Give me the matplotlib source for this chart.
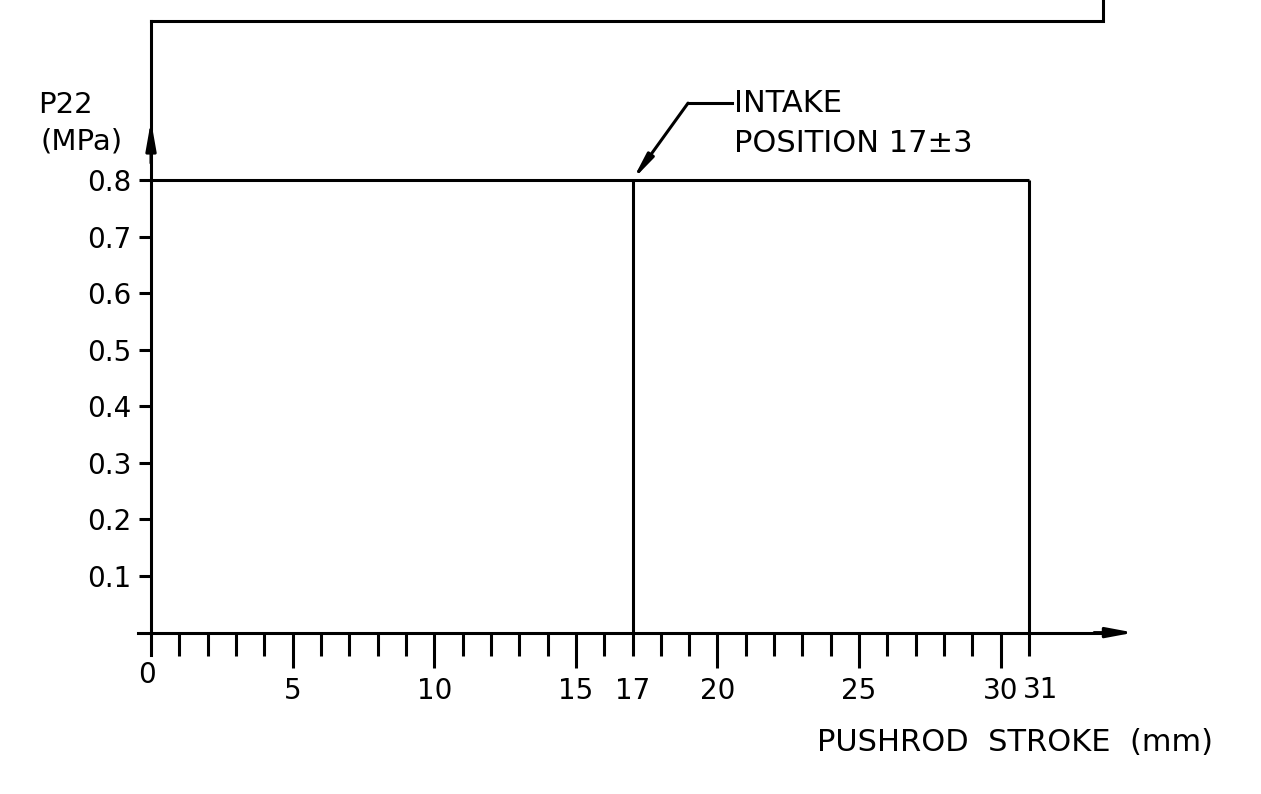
import matplotlib.pyplot as plt

# data
stroke_max = 31          # mm
intake_pos = 17          # mm
pressure = 0.8           # MPa
major_x = [5, 10, 15, 20, 25, 30]
minor_x = [i for i in range(1, 32) if i % 5 != 0]
minor_x_labels = {17: '17'}
y_ticks = [0.1, 0.2, 0.3, 0.4, 0.5, 0.6, 0.7, 0.8]

plt.rcParams['font.family'] = 'DejaVu Sans'
lw = 2.2

fig = plt.figure(figsize=(12.61, 7.94), dpi=100)
ax = fig.add_axes([0, 0, 1, 1])
# 1 mm = 28.32 px, 0.1 MPa = 56.57 px, origin at px (151, 632.6)
ax.set_xlim(-5.332, 39.19)
ax.set_ylim(-0.2853, 1.1183)

for s in ['top', 'right']:
    ax.spines[s].set_visible(False)
ax.spines['bottom'].set_position(('data', 0))
ax.spines['left'].set_position(('data', 0))
ax.spines['bottom'].set_bounds(-0.46, 33.6)
ax.spines['left'].set_bounds(-0.04, 1.081)
for s in ['bottom', 'left']:
    ax.spines[s].set_linewidth(lw)

ax.set_xticks(major_x, labels=[str(v) for v in major_x])
ax.set_xticks(minor_x, labels=[minor_x_labels.get(v, '') for v in minor_x], minor=True)
ax.set_yticks(y_ticks, labels=['%.1f' % v for v in y_ticks])
ax.tick_params(axis='x', which='major', direction='out', length=25, width=lw,
               labelsize=20, pad=7)
ax.tick_params(axis='x', which='minor', direction='out', length=16.5, width=lw,
               labelsize=20, pad=15.5)
ax.tick_params(axis='y', which='major', direction='out', length=9, width=lw,
               labelsize=20, pad=5)

# labels that sit off their ticks
ax.text(-0.15, -0.075, '0', fontsize=20, ha='center', va='center')
ax.text(30.8, -0.1015, str(stroke_max), fontsize=20, ha='left', va='center')

# pressure curve
ax.plot([0, stroke_max], [pressure, pressure], color='black', lw=lw, solid_capstyle='butt')
ax.vlines([intake_pos, stroke_max], 0, pressure, color='black', lw=lw)

# axis arrows
ax.annotate('', xy=(34.7, 0), xytext=(33.3, 0),
            arrowprops=dict(arrowstyle='-|>,head_length=1.6,head_width=0.3',
                            color='black', lw=lw, shrinkA=0, shrinkB=0))
ax.annotate('', xy=(0, 0.905), xytext=(0, 0.83),
            arrowprops=dict(arrowstyle='-|>,head_length=1.7,head_width=0.3',
                            color='black', lw=lw, shrinkA=0, shrinkB=0))

# top frame
ax.plot([0, 33.62, 33.62], [1.081, 1.081, 1.2], color='black', lw=lw,
        solid_joinstyle='miter', clip_on=False)

# intake annotation
ax.plot([18.96, 20.5], [0.936, 0.936], color='black', lw=lw)
ax.annotate('', xy=(intake_pos, pressure), xytext=(18.96, 0.936),
            arrowprops=dict(arrowstyle='-|>,head_length=1.5,head_width=0.22',
                            color='black', lw=lw, shrinkA=0, shrinkB=0))
ax.text(20.6, 0.936, 'INTAKE', fontsize=22, ha='left', va='center')
ax.text(20.6, 0.865, 'POSITION 17\u00b13', fontsize=22, ha='left', va='center')

# axis titles
ax.text(-3.99, 0.933, 'P22', fontsize=21, ha='left', va='center')
ax.text(-3.9, 0.868, '(MPa)', fontsize=21, ha='left', va='center')
ax.text(30.5, -0.195, 'PUSHROD  STROKE  (mm)', fontsize=22, ha='center', va='center')

plt.savefig('out.png', dpi=100)
